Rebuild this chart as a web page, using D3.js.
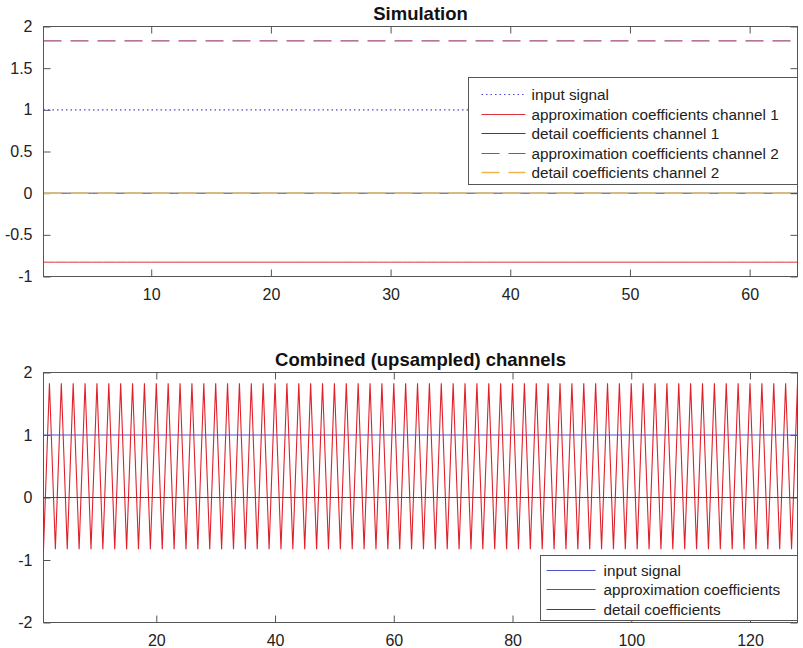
<!DOCTYPE html>
<html>
<head>
<meta charset="utf-8">
<style>
body { margin: 0; background: #fff; }
svg { display: block; font-family: "Liberation Sans", Arial, sans-serif; }
.axis text { font-size: 16px; fill: #222; font-family: "Liberation Sans", Arial, sans-serif; }
.axis line { stroke: #555; }
.axis path { display: none; }
.frame { fill: none; stroke: #555; stroke-width: 1; }
.title { font-size: 18.5px; font-weight: bold; fill: #111; text-anchor: middle; }
.legend rect { fill: #fff; stroke: #555; }
.legend text { font-size: 15.3px; fill: #222; }
</style>
</head>
<body>

<svg id="chart" width="803" height="648"></svg>

<script src="https://d3js.org/d3.v7.min.js"></script>
<script>

// ---- top panel: "Simulation", 64 samples per channel ----
var simInput = [
    1, 1, 1, 1, 1, 1, 1, 1, 1, 1, 1, 1, 1, 1, 1, 1,
    1, 1, 1, 1, 1, 1, 1, 1, 1, 1, 1, 1, 1, 1, 1, 1,
    1, 1, 1, 1, 1, 1, 1, 1, 1, 1, 1, 1, 1, 1, 1, 1,
    1, 1, 1, 1, 1, 1, 1, 1, 1, 1, 1, 1, 1, 1, 1, 1
];
var simApprox1 = [
    -0.828, -0.828, -0.828, -0.828, -0.828, -0.828, -0.828, -0.828, -0.828, -0.828, -0.828, -0.828, -0.828, -0.828, -0.828, -0.828,
    -0.828, -0.828, -0.828, -0.828, -0.828, -0.828, -0.828, -0.828, -0.828, -0.828, -0.828, -0.828, -0.828, -0.828, -0.828, -0.828,
    -0.828, -0.828, -0.828, -0.828, -0.828, -0.828, -0.828, -0.828, -0.828, -0.828, -0.828, -0.828, -0.828, -0.828, -0.828, -0.828,
    -0.828, -0.828, -0.828, -0.828, -0.828, -0.828, -0.828, -0.828, -0.828, -0.828, -0.828, -0.828, -0.828, -0.828, -0.828, -0.828
];
var simDetail1 = [
    0, 0, 0, 0, 0, 0, 0, 0, 0, 0, 0, 0, 0, 0, 0, 0,
    0, 0, 0, 0, 0, 0, 0, 0, 0, 0, 0, 0, 0, 0, 0, 0,
    0, 0, 0, 0, 0, 0, 0, 0, 0, 0, 0, 0, 0, 0, 0, 0,
    0, 0, 0, 0, 0, 0, 0, 0, 0, 0, 0, 0, 0, 0, 0, 0
];
var simApprox2 = [
    1.828, 1.828, 1.828, 1.828, 1.828, 1.828, 1.828, 1.828, 1.828, 1.828, 1.828, 1.828, 1.828, 1.828, 1.828, 1.828,
    1.828, 1.828, 1.828, 1.828, 1.828, 1.828, 1.828, 1.828, 1.828, 1.828, 1.828, 1.828, 1.828, 1.828, 1.828, 1.828,
    1.828, 1.828, 1.828, 1.828, 1.828, 1.828, 1.828, 1.828, 1.828, 1.828, 1.828, 1.828, 1.828, 1.828, 1.828, 1.828,
    1.828, 1.828, 1.828, 1.828, 1.828, 1.828, 1.828, 1.828, 1.828, 1.828, 1.828, 1.828, 1.828, 1.828, 1.828, 1.828
];
var simDetail2 = [
    0, 0, 0, 0, 0, 0, 0, 0, 0, 0, 0, 0, 0, 0, 0, 0,
    0, 0, 0, 0, 0, 0, 0, 0, 0, 0, 0, 0, 0, 0, 0, 0,
    0, 0, 0, 0, 0, 0, 0, 0, 0, 0, 0, 0, 0, 0, 0, 0,
    0, 0, 0, 0, 0, 0, 0, 0, 0, 0, 0, 0, 0, 0, 0, 0
];
var simXTicks = [10, 20, 30, 40, 50, 60];
var simYTicks = [-1, -0.5, 0, 0.5, 1, 1.5, 2];
var simLabels = ["input signal", "approximation coefficients channel 1", "detail coefficients channel 1",
                 "approximation coefficients channel 2", "detail coefficients channel 2"];

// ---- bottom panel: combined (upsampled) channels, 128 samples ----
var combInput = [
    1, 1, 1, 1, 1, 1, 1, 1, 1, 1, 1, 1, 1, 1, 1, 1,
    1, 1, 1, 1, 1, 1, 1, 1, 1, 1, 1, 1, 1, 1, 1, 1,
    1, 1, 1, 1, 1, 1, 1, 1, 1, 1, 1, 1, 1, 1, 1, 1,
    1, 1, 1, 1, 1, 1, 1, 1, 1, 1, 1, 1, 1, 1, 1, 1,
    1, 1, 1, 1, 1, 1, 1, 1, 1, 1, 1, 1, 1, 1, 1, 1,
    1, 1, 1, 1, 1, 1, 1, 1, 1, 1, 1, 1, 1, 1, 1, 1,
    1, 1, 1, 1, 1, 1, 1, 1, 1, 1, 1, 1, 1, 1, 1, 1,
    1, 1, 1, 1, 1, 1, 1, 1, 1, 1, 1, 1, 1, 1, 1, 1
];
var combApprox = [
    -0.828, 1.828, -0.828, 1.828, -0.828, 1.828, -0.828, 1.828, -0.828, 1.828, -0.828, 1.828, -0.828, 1.828, -0.828, 1.828,
    -0.828, 1.828, -0.828, 1.828, -0.828, 1.828, -0.828, 1.828, -0.828, 1.828, -0.828, 1.828, -0.828, 1.828, -0.828, 1.828,
    -0.828, 1.828, -0.828, 1.828, -0.828, 1.828, -0.828, 1.828, -0.828, 1.828, -0.828, 1.828, -0.828, 1.828, -0.828, 1.828,
    -0.828, 1.828, -0.828, 1.828, -0.828, 1.828, -0.828, 1.828, -0.828, 1.828, -0.828, 1.828, -0.828, 1.828, -0.828, 1.828,
    -0.828, 1.828, -0.828, 1.828, -0.828, 1.828, -0.828, 1.828, -0.828, 1.828, -0.828, 1.828, -0.828, 1.828, -0.828, 1.828,
    -0.828, 1.828, -0.828, 1.828, -0.828, 1.828, -0.828, 1.828, -0.828, 1.828, -0.828, 1.828, -0.828, 1.828, -0.828, 1.828,
    -0.828, 1.828, -0.828, 1.828, -0.828, 1.828, -0.828, 1.828, -0.828, 1.828, -0.828, 1.828, -0.828, 1.828, -0.828, 1.828,
    -0.828, 1.828, -0.828, 1.828, -0.828, 1.828, -0.828, 1.828, -0.828, 1.828, -0.828, 1.828, -0.828, 1.828, -0.828, 1.828
];
var combDetail = [
    0, 0, 0, 0, 0, 0, 0, 0, 0, 0, 0, 0, 0, 0, 0, 0,
    0, 0, 0, 0, 0, 0, 0, 0, 0, 0, 0, 0, 0, 0, 0, 0,
    0, 0, 0, 0, 0, 0, 0, 0, 0, 0, 0, 0, 0, 0, 0, 0,
    0, 0, 0, 0, 0, 0, 0, 0, 0, 0, 0, 0, 0, 0, 0, 0,
    0, 0, 0, 0, 0, 0, 0, 0, 0, 0, 0, 0, 0, 0, 0, 0,
    0, 0, 0, 0, 0, 0, 0, 0, 0, 0, 0, 0, 0, 0, 0, 0,
    0, 0, 0, 0, 0, 0, 0, 0, 0, 0, 0, 0, 0, 0, 0, 0,
    0, 0, 0, 0, 0, 0, 0, 0, 0, 0, 0, 0, 0, 0, 0, 0
];
var combXTicks = [20, 40, 60, 80, 100, 120];
var combYTicks = [-2, -1, 0, 1, 2];
var combLabels = ["input signal", "approximation coefficients", "detail coefficients"];

var svg = d3.select("#chart");

// plain hyphen for negatives, like the original
var fmt = function(d) { return String(d); };

function drawPanel(p) {
    var x = d3.scaleLinear().domain(p.xDomain).range([p.left, p.right]);
    var y = d3.scaleLinear().domain(p.yDomain).range([p.bottom, p.top]);
    var w = p.right - p.left, h = p.bottom - p.top;
    var g = svg.append("g");

    g.append("clipPath").attr("id", p.id + "-clip")
        .append("rect").attr("x", p.left).attr("y", p.top).attr("width", w).attr("height", h);

    // ticks point inwards on all four sides, labels only left & bottom
    g.append("g").attr("class", "axis")
        .attr("transform", "translate(0," + p.bottom + ")")
        .call(d3.axisBottom(x).tickValues(p.xTicks).tickSizeInner(-7).tickSizeOuter(0).tickPadding(12).tickFormat(fmt));
    g.append("g").attr("class", "axis")
        .attr("transform", "translate(0," + p.top + ")")
        .call(d3.axisTop(x).tickValues(p.xTicks).tickSizeInner(-7).tickSizeOuter(0).tickFormat(""));
    g.append("g").attr("class", "axis")
        .attr("transform", "translate(" + p.left + ",0)")
        .call(d3.axisLeft(y).tickValues(p.yTicks).tickSizeInner(-7).tickSizeOuter(0).tickPadding(11).tickFormat(fmt));
    g.append("g").attr("class", "axis")
        .attr("transform", "translate(" + p.right + ",0)")
        .call(d3.axisRight(y).tickValues(p.yTicks).tickSizeInner(-7).tickSizeOuter(0).tickFormat(""));

    var line = d3.line()
        .x(function(d, i) { return x(i + 1); })
        .y(function(d) { return y(d); });

    var lines = g.append("g").attr("clip-path", "url(#" + p.id + "-clip)");
    p.series.forEach(function(s) {
        lines.append("path")
            .datum(s.values)
            .attr("d", line)
            .attr("fill", "none")
            .attr("stroke", s.color)
            .attr("stroke-width", s.width)
            .attr("stroke-dasharray", s.dash);
    });

    g.append("rect").attr("class", "frame")
        .attr("x", p.left).attr("y", p.top).attr("width", w).attr("height", h);

    g.append("text").attr("class", "title")
        .attr("x", (p.left + p.right) / 2).attr("y", p.top - 6.5)
        .text(p.title);

    // legend
    var L = p.legend;
    var lg = g.append("g").attr("class", "legend");
    lg.append("rect").attr("x", L.x).attr("y", L.y).attr("width", L.w).attr("height", L.h);
    p.series.forEach(function(s, i) {
        var ry = Math.round(L.y + L.first + i * L.step) + 0.5;
        lg.append("line")
            .attr("x1", L.x + L.s0).attr("x2", L.x + L.s1)
            .attr("y1", ry).attr("y2", ry)
            .attr("stroke", s.color).attr("stroke-width", s.width)
            .attr("stroke-dasharray", s.dash);
        lg.append("text").attr("x", L.x + L.tx).attr("y", ry).attr("dy", "0.35em").text(s.label);
    });
}

drawPanel({
    id: "sim", title: "Simulation",
    left: 43.5, right: 797.5, top: 26.5, bottom: 276.5,
    xDomain: [1, 64], yDomain: [-1, 2],
    xTicks: simXTicks, yTicks: simYTicks,
    series: [
        {values: simInput,   label: simLabels[0], color: "#4a4ad0", width: 1.2, dash: "1.5,3"},
        {values: simApprox1, label: simLabels[1], color: "#e0303c", width: 1,   dash: null},
        {values: simDetail1, label: simLabels[2], color: "#444",    width: 1,   dash: null},
        {values: simApprox2, label: simLabels[3], color: "#a0487a", width: 1.2, dash: "18,9"},
        {values: simDetail2, label: simLabels[4], color: "#f2b54a", width: 1.5, dash: "18,9"}
    ],
    legend: {x: 468.5, y: 77.5, w: 329, h: 107, first: 16.5, step: 19.5, s0: 13, s1: 57, tx: 63}
});

drawPanel({
    id: "comb", title: "Combined (upsampled) channels",
    left: 43.5, right: 797.5, top: 372.5, bottom: 622.5,
    xDomain: [1, 128], yDomain: [-2, 2],
    xTicks: combXTicks, yTicks: combYTicks,
    series: [
        {values: combInput,  label: combLabels[0], color: "#5050d0", width: 1.1, dash: null},
        {values: combApprox, label: combLabels[1], color: "#e0202a", width: 1.1, dash: null},
        {values: combDetail, label: combLabels[2], color: "#444",    width: 1,   dash: null}
    ],
    legend: {x: 540.5, y: 555.5, w: 257, h: 65, first: 14, step: 19.7, s0: 6, s1: 55, tx: 63}
});

</script>
</body>
</html>
